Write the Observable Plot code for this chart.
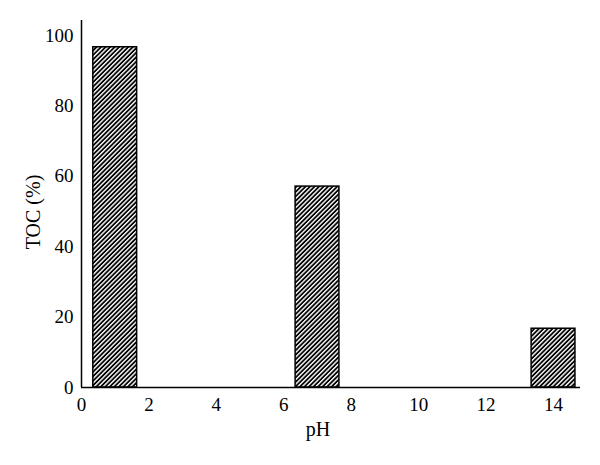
<!DOCTYPE html>
<html>
<head>
<meta charset="utf-8">
<script src="https://cdn.jsdelivr.net/npm/d3@7"></script>
<script src="https://cdn.jsdelivr.net/npm/@observablehq/plot@0.6"></script>
<style>
  html, body { margin: 0; padding: 0; background: #fff; }
  #chart svg { display: block; }
</style>
</head>
<body>
<div id="chart"></div>
<script>
const phValues = [1, 7, 14];
const tocValues = [96.7, 57.1, 16.7];
const xTicks = [0, 2, 4, 6, 8, 10, 12, 14];
const yTicks = [0, 20, 40, 60, 80, 100];
const xLabel = "pH";
const yLabel = "TOC (%)";
const barHalfWidth = 0.65;

const data = phValues.map((ph, i) => ({ph, toc: tocValues[i]}));
const font = "'Liberation Serif', 'Times New Roman', serif";

const chart = Plot.plot({
  width: 600,
  height: 465,
  marginLeft: 81,
  marginRight: 20,
  marginTop: 20,
  marginBottom: 78,
  style: {fontFamily: font, fontSize: "19px", color: "#000", background: "#fff"},
  x: {domain: [0, 14.8]},
  y: {domain: [0, 104.3]},
  marks: [
    Plot.rectY(data, {
      x1: d => d.ph - barHalfWidth,
      x2: d => d.ph + barHalfWidth,
      y1: 0,
      y2: "toc",
      fill: "url(#hatch)",
      stroke: "#000",
      strokeWidth: 1.5
    }),
    Plot.ruleX([0], {y1: 0, y2: 104.3, stroke: "#000", strokeWidth: 1.5}),
    Plot.ruleY([0], {x1: 0, x2: 14.8, stroke: "#000", strokeWidth: 1.5}),
    Plot.axisX(xTicks, {tickSize: 0, tickPadding: 10, label: null, fontSize: 19}),
    Plot.axisY(yTicks, {tickSize: 0, tickPadding: 8, label: null, fontSize: 19}),
    Plot.text([xLabel], {frameAnchor: "bottom", textAnchor: "middle", dx: -13, dy: 48, fontSize: 20, fill: "#000"}),
    Plot.text([yLabel], {frameAnchor: "left", textAnchor: "middle", lineAnchor: "middle", dx: -48, dy: 8, rotate: -90, fontSize: 20, fill: "#000"})
  ]
});

// hatch pattern definition
const ns = "http://www.w3.org/2000/svg";
const defs = document.createElementNS(ns, "defs");
const pat = document.createElementNS(ns, "pattern");
pat.setAttribute("id", "hatch");
pat.setAttribute("patternUnits", "userSpaceOnUse");
pat.setAttribute("width", "3.2");
pat.setAttribute("height", "3.2");
pat.setAttribute("patternTransform", "rotate(45)");
const bg = document.createElementNS(ns, "rect");
bg.setAttribute("width", "3.2");
bg.setAttribute("height", "3.2");
bg.setAttribute("fill", "#000");
const ln = document.createElementNS(ns, "rect");
ln.setAttribute("x", "0");
ln.setAttribute("width", "1.4");
ln.setAttribute("height", "3.2");
ln.setAttribute("fill", "#fff");
pat.appendChild(bg);
pat.appendChild(ln);
defs.appendChild(pat);
chart.insertBefore(defs, chart.firstChild);

document.getElementById("chart").appendChild(chart);
</script>
</body>
</html>
